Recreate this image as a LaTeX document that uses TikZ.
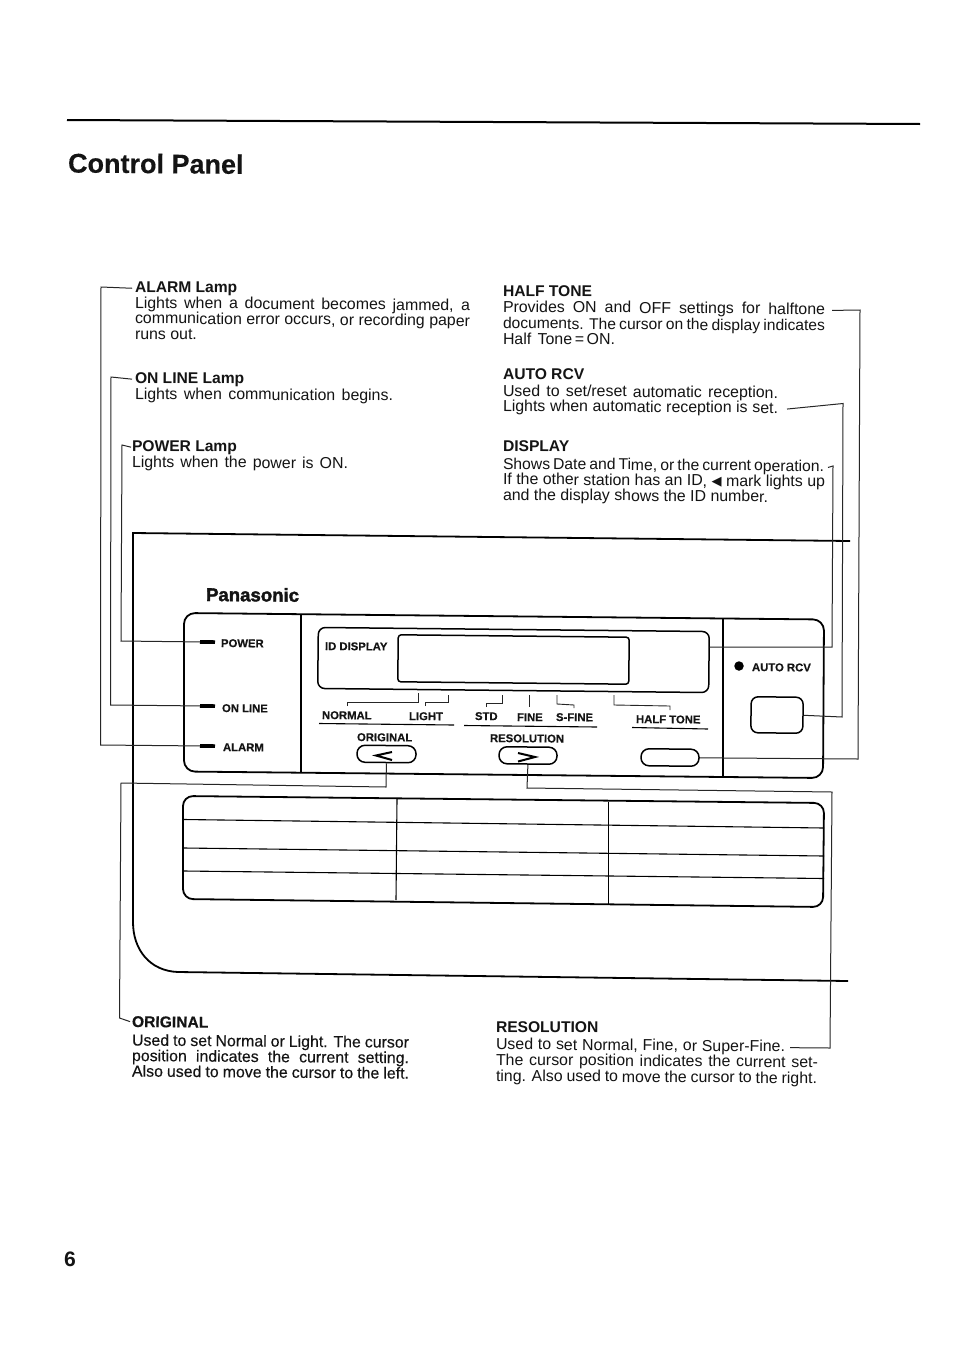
\documentclass[tikz,border=0pt]{standalone}
\usepackage{fontspec}
\setmainfont{Liberation Sans}
\newfontfamily\heavyfont[FakeBold=0.3]{Liberation Sans}
\newfontfamily\heavybold[FakeBold=2,BoldFeatures={FakeBold=2}]{Liberation Sans}
\newcommand{\J}[2]{\makebox[#1pt][s]{#2}}
\newcommand{\tline}[4]{\node[txt] (#1) at (#2,#3) {#4};}
\newcommand{\headl}[4]{\node[txt,head] (#1) at (#2,#3) {#4};}
\newcommand{\pline}[4]{\node[txt,plab] (#1) at (#2,#3) {#4};}
\tikzset{
  txt/.style={anchor=base west,inner sep=0pt,outer sep=0pt,rotate=-.45,text=black!92,font=\fontsize{15.9}{16}\selectfont},
  head/.style={font=\fontsize{15.6}{16}\selectfont\bfseries},
  plab/.style={font=\fontsize{11.3}{12}\selectfont\heavyfont\bfseries},
  conn/.style={draw=black!85,line width=1pt},
  heavy/.style={draw=black,line width=1.8pt},
  thin rule/.style={draw=black,line width=1.1pt},
  cursor/.style={draw=black!85,line width=.9pt},
  lamp/.style={fill=black,inner sep=0pt,minimum width=15pt,minimum height=3.6pt,rotate=-.4},
  pill/.style={draw=black,line width=1.5pt,inner sep=0pt,rounded corners=8pt,minimum width=#1,minimum height=17pt,rotate=-.6},
  screen/.style={draw=black,line width=1.5pt,inner sep=0pt,rotate=-.6},
}
\begin{document}
\begin{tikzpicture}[x=1pt,y=-1pt]
\useasboundingbox[fill=white] (0,0) rectangle (954,1349);
% page header
\draw[draw=black,line width=2pt] (67,120) -- (920,124);
\node[txt,font=\fontsize{27}{28}\selectfont\heavyfont\bfseries,rotate=.0] (title) at (68,172.5) {Control Panel};
\node[txt,font=\fontsize{21}{24}\selectfont\bfseries,rotate=0] (pageno) at (64,1266) {6};

% left column
\headl{alarmhead}{135}{292}{ALARM Lamp}
\tline{alarma}{135}{308}{\J{335}{Lights when a document becomes jammed, a}}
\tline{alarmb}{135}{323.5}{\J{335}{communication error occurs, or recording paper}}
\tline{alarmc}{135}{339}{runs out.}
\headl{onlinehead}{135}{383}{ON LINE Lamp}
\tline{onlinea}{135}{399}{\J{258}{Lights when communication begins.}}
\headl{powerhead}{132}{451}{POWER Lamp}
\tline{powera}{132}{467}{\J{216}{Lights when the power is ON.}}

% right column
\headl{hthead}{503}{296}{HALF TONE}
\tline{hta}{503}{312}{\J{322}{Provides ON and OFF settings for halftone}}
\tline{htb}{503}{328.5}{\fontsize{15.6}{16}\selectfont\J{322}{documents. The cursor on the display indicates}}
\tline{htc}{503}{344}{\J{112}{Half Tone\,=\,ON.}}
\headl{autohead}{503}{379}{AUTO RCV}
\tline{autoa}{503}{396}{\J{275}{Used to set/reset automatic reception.}}
\tline{autob}{503}{411}{\J{275}{Lights when automatic reception is set.}}
\headl{disphead}{503}{451}{DISPLAY}
\tline{dispa}{503}{469}{\fontsize{15.7}{16}\selectfont\J{321}{Shows Date and Time, or the current operation.}}
\tline{dispb}{503}{484.5}{\J{322}{If the other station has an ID, \raisebox{.5pt}{\fontsize{13}{13}\fontspec{DejaVu Sans}◀} mark lights up}}
\tline{dispc}{503}{500}{\J{265}{and the display shows the ID number.}}

% cabinet outline
\draw[heavy,rounded corners=0pt] (850,541) -- (133,533) -- (133,922) .. controls (133,950) and (150,971) .. (178,972) -- (848,981);
\node[txt,font=\fontsize{18.6}{20}\selectfont\heavybold\bfseries,rotate=0] (brand) at (206,601) {\J{93}{Panasonic}};

% control panel
\draw[heavy,rounded corners=11pt] (184,613) -- (824,619.5) -- (823,778) -- (184,771.5) -- cycle;
\draw[heavy] (300.7,614) -- (300.7,773);
\draw[heavy] (723,619) -- (723,777);

% lamps
\node[lamp] (lamppower) at (207.5,642) {};
\node[lamp] (lamponline) at (207.5,706) {};
\node[lamp] (lampalarm) at (207.5,746) {};
\pline{labpower}{221}{647}{POWER}
\pline{labonline}{222}{712}{ON LINE}
\pline{labalarm}{223}{751}{ALARM}

% display
\node[screen,rounded corners=7pt,minimum width=391pt,minimum height=61pt] (dispouter) at (513.5,660) {};
\node[screen,rounded corners=3pt,minimum width=231pt,minimum height=47pt] (dispinner) at (513.5,659.5) {};
\pline{labid}{325}{650}{ID DISPLAY}

% cursor marks
\draw[cursor] (347,706) -- (347,702) -- (418,702) -- (418,693);
\draw[cursor] (425,706) -- (425,702.5) -- (448,702.5) -- (448,695);
\draw[cursor] (486,707) -- (486,703) -- (502,703) -- (502,695);
\draw[cursor] (529,695) -- (529,707);
\draw[cursor] (557,695) -- (557,704) -- (574,705) -- (574,708);
\draw[cursor] (614,695) -- (614,705) -- (670,706) -- (670,710);

\pline{labnormal}{322}{719}{NORMAL}
\pline{lablight}{409}{720}{LIGHT}
\pline{labstd}{475}{720}{STD}
\pline{labfine}{517}{721}{FINE}
\pline{labsfine}{556}{721}{S-FINE}
\pline{labht}{636}{723}{HALF TONE}
\draw[thin rule] (319,723.5) -- (454,725);
\draw[thin rule] (464,725.5) -- (597,727);
\draw[thin rule] (632,727.5) -- (708,729);
\pline{laboriginal}{357}{741}{ORIGINAL}
\pline{labresolution}{490}{742}{RESOLUTION}

% buttons
\node[pill=59pt] (btnoriginal) at (386.5,754) {};
\node[pill=58pt] (btnresolution) at (528,755.5) {};
\node[pill=58pt] (btnhalftone) at (670,757.5) {};
\draw[line width=2pt] (392,752) -- (376,755.5) -- (392,760);
\draw[line width=2pt] (518,753) -- (535,757) -- (518,761.5);

% auto rcv
\node[circle,fill=black,inner sep=0pt,minimum size=9.5pt] (lampauto) at (739,666) {};
\pline{labauto}{752}{671}{AUTO RCV}
\node[screen,rounded corners=7pt,minimum width=52pt,minimum height=36pt] (btnauto) at (777,715) {};

% table
\draw[heavy,rounded corners=10pt] (183,796) -- (824,803) -- (823,907) -- (183,899) -- cycle;
\draw[thin rule] (184,819.5) -- (824,828);
\draw[thin rule] (184,848) -- (824,856);
\draw[thin rule] (184,871) -- (824,878.5);
\draw[thin rule] (397,799) -- (396,900);
\draw[heavy,line width=1.3pt] (608.5,802) -- (608.5,904);

% lower texts
\headl{orighead}{132}{1027}{\heavyfont\bfseries ORIGINAL}
\tline{origa}{132}{1045.5}{\heavyfont\J{277}{Used to set Normal or Light. The cursor}}
\tline{origb}{132}{1061}{\heavyfont\J{277}{position indicates the current setting.}}
\tline{origc}{132}{1076.5}{\heavyfont\J{277}{Also used to move the cursor to the left.}}
\headl{reshead}{496}{1032}{RESOLUTION}
\tline{resa}{496}{1049.5}{\J{289}{Used to set Normal, Fine, or Super-Fine.}}
\tline{resb}{496}{1065}{\J{322}{The cursor position indicates the current set-}}
\tline{resc}{496}{1081}{\J{321}{ting. Also used to move the cursor to the right.}}

% connectors
\draw[conn] ([xshift=-3pt]alarmhead.west) -- (101,287) -- (100.5,745) -- (lampalarm.west);
\draw[conn] ([xshift=-3pt]onlinehead.west) -- (111,377) -- (110.5,705) -- (lamponline.west);
\draw[conn] ([xshift=-1pt]powerhead.west) -- (122,445) -- (121,641) -- (lamppower.west);
\draw[conn] ([xshift=7pt]hta.east) -- (860,310) -- (858,759) -- (btnhalftone.east);
\draw[conn] ([xshift=9pt]autob.east) -- (843,403.5) -- (842,717) -- (btnauto.east);
\draw[conn] ([xshift=4pt]dispa.east) -- (833,466) -- (832,647) -- ([yshift=15pt]dispouter.east);
\draw[conn] (btnoriginal.south) -- (386,787) -- (121,783) -- (119.5,1018) -- ([xshift=-2pt]orighead.west);
\draw[conn] (btnresolution.south) -- (527,788) -- (832,792) -- (830,1048) -- ([xshift=5pt]resa.east);
\end{tikzpicture}
\end{document}
